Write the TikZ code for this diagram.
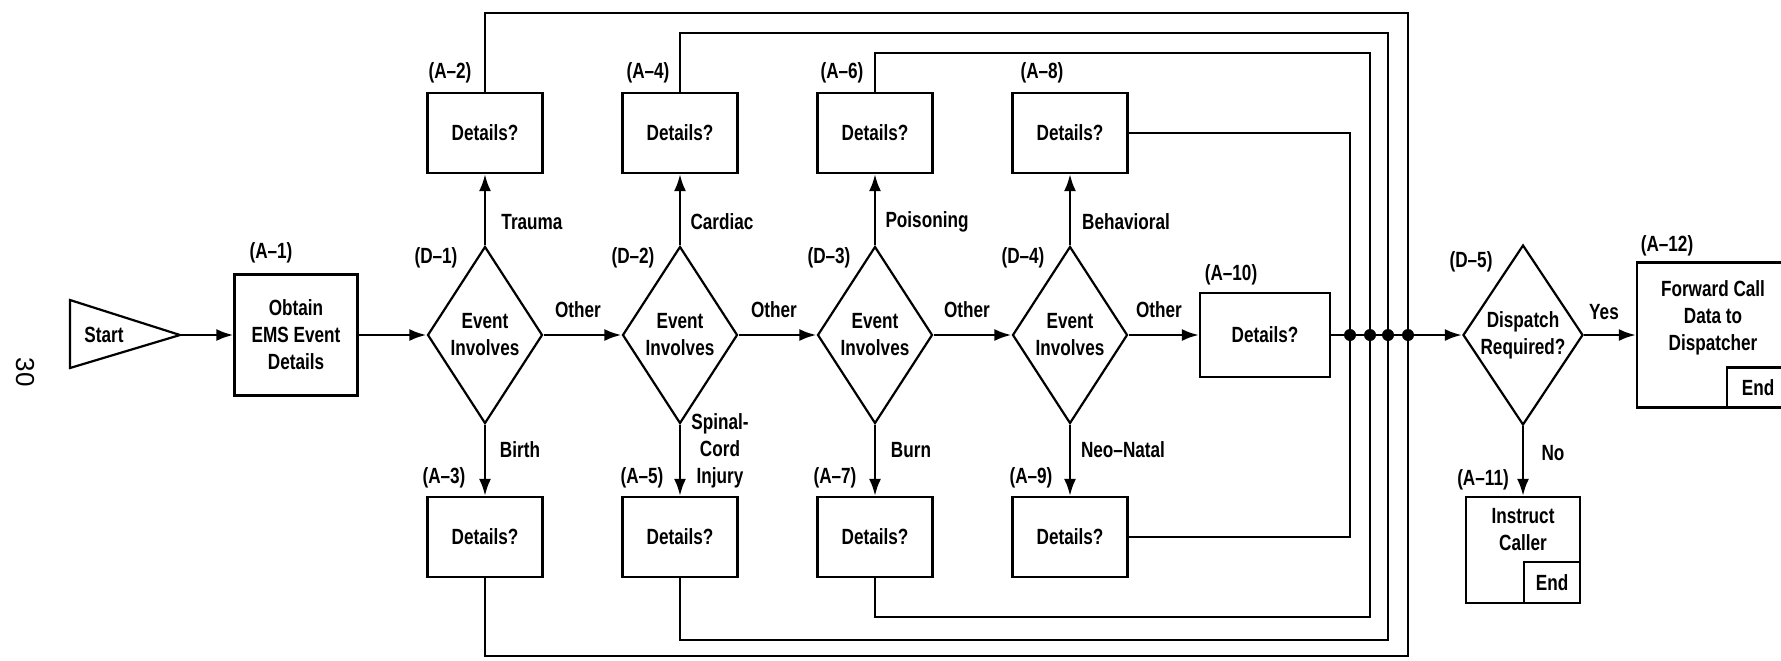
\documentclass[tikz,border=0pt]{standalone}
\usepackage{fontspec}
\setmainfont{Liberation Sans}[FakeStretch=0.78]
\newfontfamily\plainfont{Liberation Sans}
\usetikzlibrary{shapes.geometric,arrows.meta}
\begin{document}
\begin{tikzpicture}[x=0.5pt,y=-0.5pt,
  every node/.style={font=\fontsize{11}{13.5}\selectfont\bfseries, inner sep=0pt, align=center},
  box/.style={draw, line width=1.1pt, minimum width=57.5pt, minimum height=40pt},
  dia/.style={draw, diamond, aspect=0.65, line width=1.1pt, minimum width=57.5pt, minimum height=88.5pt},
  endbox/.style={draw, line width=1.1pt, anchor=south east},
  conn/.style={line width=1.3pt},
  arr/.style={conn, -{Latex[length=8.5pt,width=6pt]}},
  dot/.style={circle, fill, minimum size=6pt, inner sep=0pt}]
\useasboundingbox (0,0) rectangle (1781,660);
\clip (0,0) rectangle (1781,660);

% page number
\node[font=\plainfont\fontsize{13}{13}\selectfont, rotate=-90] (pg) at (25,372) {30};

% start
\coordinate (st) at (180,335);
\draw[line width=1.1pt] (70,300) -- (st) -- (70,368) -- cycle;
\node (startlbl) at (104,335) {Start};

% main boxes
\node[box, minimum width=61.5pt, minimum height=60.5pt] (A1) at (296,335) {Obtain\\EMS Event\\Details};
\node[dia] (D1) at (485,335) {Event\\Involves};
\node[dia] (D2) at (680,335) {Event\\Involves};
\node[dia] (D3) at (875,335) {Event\\Involves};
\node[dia] (D4) at (1070,335) {Event\\Involves};
\node[box, minimum width=65pt, minimum height=42pt] (A10) at (1265,335) {Details?};
\node[dia, minimum width=60pt, minimum height=90pt] (D5) at (1523,335) {Dispatch\\Required?};

\node[box] (A2) at (485,133) {Details?};
\node[box] (A4) at (680,133) {Details?};
\node[box] (A6) at (875,133) {Details?};
\node[box] (A8) at (1070,133) {Details?};
\node[box] (A3) at (485,537) {Details?};
\node[box] (A5) at (680,537) {Details?};
\node[box] (A7) at (875,537) {Details?};
\node[box] (A9) at (1070,537) {Details?};

% end boxes
\node[box, minimum width=57pt, minimum height=53pt] (A11) at (1523,550) {};
\node (A11t) at (1523,530) {Instruct\\Caller};
\node[endbox, minimum width=28pt, minimum height=20.5pt] (E11) at (A11.south east) {End};
\node[box, minimum width=76pt, minimum height=72.5pt] (A12) at (1713,335) {};
\node (A12t) at (1713,318) {Forward Call\\Data to\\Dispatcher};
\node[endbox, minimum width=31pt, minimum height=20pt] (E12) at (A12.south east) {End};

% reference labels
\node (lA1) at (271,253) {(A--1)};
\node (lA2) at (450,73) {(A--2)};
\node (lA4) at (648,73) {(A--4)};
\node (lA6) at (842,73) {(A--6)};
\node (lA8) at (1042,73) {(A--8)};
\node (lA3) at (444,478) {(A--3)};
\node (lA5) at (642,478) {(A--5)};
\node (lA7) at (835,478) {(A--7)};
\node (lA9) at (1031,478) {(A--9)};
\node (lD1) at (436,258) {(D--1)};
\node (lD2) at (633,258) {(D--2)};
\node (lD3) at (829,258) {(D--3)};
\node (lD4) at (1023,258) {(D--4)};
\node (lA10) at (1231,275) {(A--10)};
\node (lD5) at (1471,262) {(D--5)};
\node (lA11) at (1483,480) {(A--11)};
\node (lA12) at (1667,246) {(A--12)};

% branch labels
\node (bT) at (532,222) {Trauma};
\node (bC) at (722,222) {Cardiac};
\node (bP) at (927,222) {Poisoning};
\node (bBe) at (1126,222) {Behavioral};
\node (bBi) at (520,450) {Birth};
\node (bS) at (720,451) {Spinal-\\Cord\\Injury};
\node (bBu) at (911,450) {Burn};
\node (bN) at (1123,450) {Neo--Natal};
\node (o1) at (578,310) {Other};
\node (o2) at (774,310) {Other};
\node (o3) at (967,310) {Other};
\node (o4) at (1159,310) {Other};
\node (yes) at (1604,312) {Yes};
\node (no) at (1553,453) {No};

% main flow
\draw[arr] (st) -- (A1);
\draw[arr] (A1) -- (D1);
\draw[arr] (D1) -- (D2);
\draw[arr] (D2) -- (D3);
\draw[arr] (D3) -- (D4);
\draw[arr] (D4) -- (A10);
\draw[arr] (A10) -- (D5);
\draw[arr] (D5) -- (A12);
\draw[arr] (D5) -- (A11);

% branches
\draw[arr] (D1) -- (A2);
\draw[arr] (D1) -- (A3);
\draw[arr] (D2) -- (A4);
\draw[arr] (D2) -- (A5);
\draw[arr] (D3) -- (A6);
\draw[arr] (D3) -- (A7);
\draw[arr] (D4) -- (A8);
\draw[arr] (D4) -- (A9);

% return loops
\coordinate (t1) at (1408,13);  \coordinate (b1) at (1408,656);
\coordinate (t2) at (1388,33);  \coordinate (b2) at (1388,640);
\coordinate (t3) at (1370,53);  \coordinate (b3) at (1370,617);
\coordinate (t4) at (1350,133); \coordinate (b4) at (1350,537);
\draw[conn] (A2.north) |- (t1) -- (b1) -| (A3.south);
\draw[conn] (A4.north) |- (t2) -- (b2) -| (A5.south);
\draw[conn] (A6.north) |- (t3) -- (b3) -| (A7.south);
\draw[conn] (A8.east) -- (t4) -- (b4) -- (A9.east);

% junction dots
\node[dot] (j4) at (1350,335) {};
\node[dot] (j3) at (1370,335) {};
\node[dot] (j2) at (1388,335) {};
\node[dot] (j1) at (1408,335) {};
\end{tikzpicture}
\end{document}
